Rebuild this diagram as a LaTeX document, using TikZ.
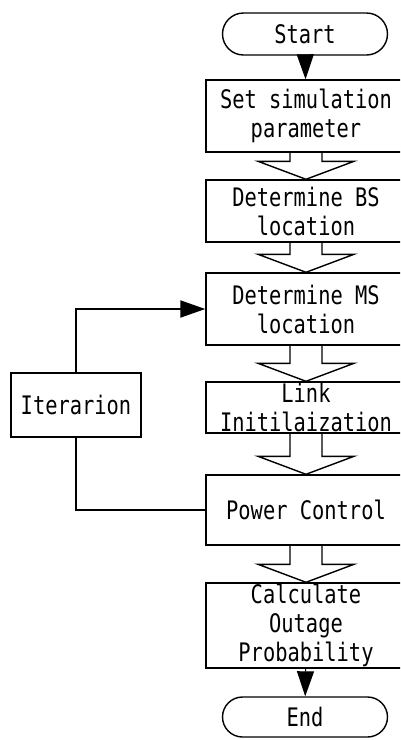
\documentclass[tikz,border=0pt]{standalone}
\usepackage{fontspec}
\setmainfont[FakeStretch=0.8]{DejaVu Sans Mono}
\usetikzlibrary{arrows.meta,shapes.misc,calc}

% wide hollow arrow between two stacked boxes
\newcommand{\fatarrow}[2]{%
\draw[fat]($(#1.south)+(-16,0)$)--($(#2.north)+(-16,-18)$)--($(#2.north)+(-48,-18)$)--(#2.north)
--($(#2.north)+(48,-18)$)--($(#2.north)+(16,-18)$)--($(#1.south)+(16,0)$);}

\begin{document}
\begin{tikzpicture}[x=1pt,y=-1pt,
box/.style={draw,line width=1.4pt,minimum width=200pt,inner sep=0pt,align=center,font=\fontsize{25.5}{29}\selectfont},
term/.style={draw,rounded rectangle,line width=1.4pt,minimum width=165pt,inner sep=0pt,font=\fontsize{25.5}{29}\selectfont},
fat/.style={line width=1.4pt,line join=miter},
tri/.style={-{Triangle[length=25pt,width=17pt]},line width=1pt},
loop/.style={line width=2pt}]
\useasboundingbox(0,0)rectangle(400,740);
\clip(0,0)rectangle(400,740);
% main chain
\node[term,minimum height=42pt](start)at(305,34){Start};
\node[box,minimum height=72pt](param)at(306,116){Set simulation\\parameter};
\node[box,minimum height=62pt](bs)at(306,211){Determine BS\\location};
\node[box,minimum height=72pt](ms)at(306,309){Determine MS\\location};
\node[box,minimum height=51pt](link)at(306,407.5){Link\\Initilaization};
\node[box,minimum height=70pt](power)at(306,510){Power Control};
\node[box,minimum height=85pt](outage)at(306,625.5){Calculate\\Outage\\Probability};
\node[term,minimum height=40pt](end)at(305,717){End};
% feedback box
\node[box,minimum width=130pt,minimum height=64pt](iter)at(76,405){Iterarion};

\draw[tri](start)--(param);
\fatarrow{param}{bs}
\fatarrow{bs}{ms}
\fatarrow{ms}{link}
\fatarrow{link}{power}
\fatarrow{power}{outage}
\draw[tri](outage)--(end);

\draw[loop,-{Triangle[length=25pt,width=17pt]}](iter.north)|-(ms.west);
\draw[loop](iter.south)|-(power.west);
\end{tikzpicture}
\end{document}
